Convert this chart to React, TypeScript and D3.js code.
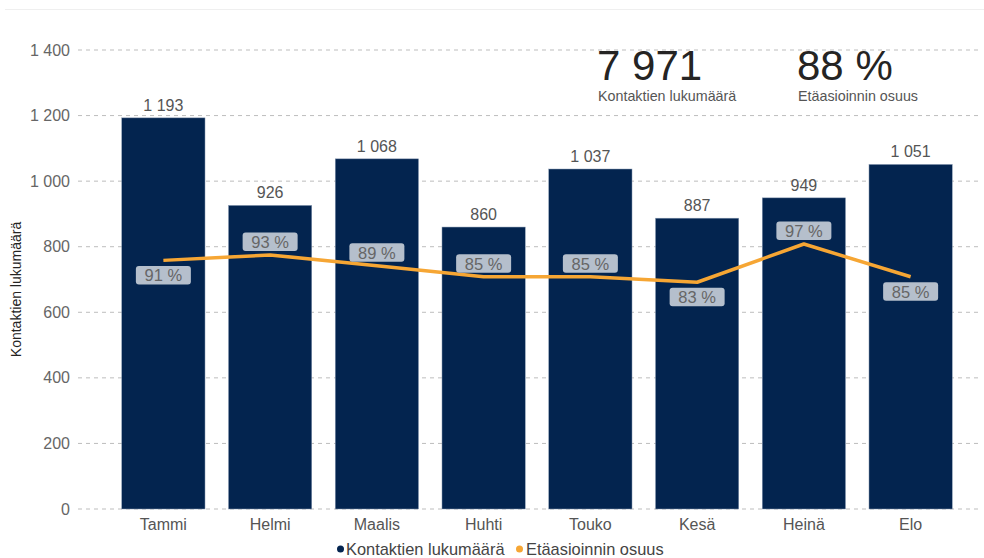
import React from "react";
import * as d3 from "d3";

const months = ["Tammi", "Helmi", "Maalis", "Huhti", "Touko", "Kesä", "Heinä", "Elo"];
const contacts = [1193, 926, 1068, 860, 1037, 887, 949, 1051];
const remoteShare = [0.91, 0.93, 0.89, 0.85, 0.85, 0.83, 0.97, 0.85];
const labelAbove = [false, true, true, true, true, false, true, false];
const yTicks = [0, 200, 400, 600, 800, 1000, 1200, 1400];
const kpiTotal = "7 971";
const kpiTotalLabel = "Kontaktien lukumäärä";
const kpiShare = "88 %";
const kpiShareLabel = "Etäasioinnin osuus";
const seriesNames = ["Kontaktien lukumäärä", "Etäasioinnin osuus"];
const yTitle = "Kontaktien lukumäärä";

const W = 984;
const H = 558;
const NAVY = "#03244F";
const ORANGE = "#F6A634";
const FONT = "'Liberation Sans', Arial, sans-serif";

const fmt = (v: number) => d3.format(",")(v).replace(/,/g, " ");

export default function App() {
  const x = d3.scaleBand<string>().domain(months).range([110, 964]).paddingInner(0.22).paddingOuter(0.11);
  const y = d3.scaleLinear().domain([0, 1400]).range([509, 50]);
  const y2 = d3.scaleLinear().domain([0, 1.68]).range([509, 50]);
  const cx = (m: string) => (x(m) as number) + x.bandwidth() / 2;
  const line = d3
    .line<number>()
    .x((_, i) => cx(months[i]))
    .y((d) => y2(d));

  return (
    <svg width={W} height={H} style={{ position: "absolute", left: 0, top: 0, fontFamily: FONT }}>
      <rect width={W} height={H} fill="#fff" />
      <line x1={5} x2={W} y1={9.5} y2={9.5} stroke="#efefef" />
      {yTicks.map((t) => (
        <g key={t}>
          <line x1={78} x2={982} y1={y(t)} y2={y(t)} stroke="#bdbdbd" strokeDasharray="4 4" />
          <text x={70} y={y(t)} dy="0.35em" textAnchor="end" fontSize={16} fill="#666">
            {fmt(t)}
          </text>
        </g>
      ))}
      <text
        transform={`translate(21,${(50 + 509) / 2 + 10}) rotate(-90)`}
        textAnchor="middle"
        fontSize={14}
        fill="#252423"
      >
        {yTitle}
      </text>
      {months.map((m, i) => (
        <g key={m}>
          <rect
            x={x(m)}
            y={y(contacts[i])}
            width={x.bandwidth()}
            height={y(0) - y(contacts[i])}
            fill={NAVY}
            stroke="#8a9bb3"
            strokeWidth={0.5}
          />
          <text x={cx(m)} y={y(contacts[i]) - 7} textAnchor="middle" fontSize={16} fill="#555">
            {fmt(contacts[i])}
          </text>
          <text x={cx(m)} y={530} textAnchor="middle" fontSize={16} fill="#555">
            {m}
          </text>
        </g>
      ))}
      <path d={line(remoteShare) as string} fill="none" stroke={ORANGE} strokeWidth={3.5} strokeLinejoin="round" />
      {months.map((m, i) => {
        const py = y2(remoteShare[i]);
        const top = labelAbove[i] ? py - 4 - 18.5 : py + 5.5;
        return (
          <g key={"l" + m}>
            <rect x={cx(m) - 27.5} y={top} width={55} height={18.5} rx={3} fill="#B5BFCC" />
            <text x={cx(m)} y={top + 9.5} dy="0.35em" textAnchor="middle" fontSize={16.5} fill="#666">
              {Math.round(remoteShare[i] * 100) + " %"}
            </text>
          </g>
        );
      })}
      <text x={597} y={80} fontSize={42} fill="#252423">
        {kpiTotal}
      </text>
      <text x={598} y={101} fontSize={14.3} fill="#555">
        {kpiTotalLabel}
      </text>
      <text x={797} y={80} fontSize={42} fill="#252423">
        {kpiShare}
      </text>
      <text x={798} y={101} fontSize={14.3} fill="#555">
        {kpiShareLabel}
      </text>
      <g fontSize={16.4} fill="#444">
        <circle cx={340.5} cy={549} r={3.5} fill={NAVY} />
        <text x={346} y={549} dy="0.35em">
          {seriesNames[0]}
        </text>
        <circle cx={519.5} cy={549} r={3.5} fill={ORANGE} />
        <text x={526} y={549} dy="0.35em">
          {seriesNames[1]}
        </text>
      </g>
    </svg>
  );
}
